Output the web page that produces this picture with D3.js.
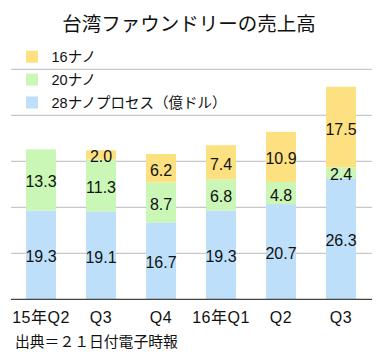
<!DOCTYPE html>
<html><head><meta charset="utf-8">
<script src="https://cdn.jsdelivr.net/npm/d3@7"></script>
<style>
html,body{margin:0;padding:0;background:#fff;}
svg{display:block;font-family:"Liberation Sans","Noto Sans CJK JP",sans-serif;}
</style></head>
<body><svg id="c" width="382" height="357"></svg>
<script>
const title = "台湾ファウンドリーの売上高";
const source = "出典＝２１日付電子時報";
const categories = ["15年Q2","Q3","Q4","16年Q1","Q2","Q3"];
const nm28 = [19.3,19.1,16.7,19.3,20.7,26.3];
const nm20 = [13.3,11.3,8.7,6.8,4.8,2.4];
const nm16 = [null,2.0,6.2,7.4,10.9,17.5];
const seriesNames = ["16ナノ","20ナノ","28ナノプロセス（億ドル）"];
const yTicks = [10,20,30,40,50];
const colors = {nm16:"#fde07f", nm20:"#caf6b6", nm28:"#bddffa"};

const svg = d3.select("#c");
const x = d3.scaleBand().domain(d3.range(categories.length)).range([11,371]).paddingInner(0.5).paddingOuter(0.25);
const y = d3.scaleLinear().domain([0,50]).range([299.3,69.3]);

// gridlines
svg.append("g").selectAll("line").data(yTicks).join("line")
  .attr("x1",11).attr("x2",372).attr("y1",d=>y(d)).attr("y2",d=>y(d))
  .attr("stroke","#bbbbbb").attr("stroke-width",1);

// stacked data
const rows = categories.map((c,i)=>({i, nm28:nm28[i], nm20:nm20[i], nm16:nm16[i]||0, raw16:nm16[i]}));
const keys = ["nm28","nm20","nm16"];
const stack = d3.stack().keys(keys)(rows);

const g = svg.append("g");
stack.forEach(layer=>{
  g.append("g").selectAll("rect").data(layer.filter(d=>d[1]-d[0]>0)).join("rect")
    .attr("x",d=>x(d.data.i)).attr("width",x.bandwidth())
    .attr("y",d=>y(d[1])).attr("height",d=>y(d[0])-y(d[1]))
    .attr("fill",colors[layer.key]);
});
stack.forEach(layer=>{
  g.append("g").selectAll("text").data(layer.filter(d=>d[1]-d[0]>0)).join("text")
    .attr("x",d=>x(d.data.i)+x.bandwidth()/2)
    .attr("y",d=>(y(d[0])+y(d[1]))/2+2)
    .attr("text-anchor","middle").attr("dominant-baseline","central")
    .attr("font-size",16).attr("fill","#111")
    .text(d=>(d[1]-d[0]).toFixed(1));
});

// baseline
svg.append("line").attr("x1",11).attr("x2",372).attr("y1",y(0)).attr("y2",y(0))
  .attr("stroke","#444").attr("stroke-width",1.2);

// x axis labels
svg.append("g").selectAll("text").data(categories).join("text")
  .attr("x",(d,i)=>x(i)+x.bandwidth()/2).attr("y",317.5)
  .attr("text-anchor","middle").attr("dominant-baseline","central")
  .attr("font-size",16).attr("fill","#111").style("letter-spacing","0.5px")
  .text(d=>d);

// title
svg.append("text").attr("x",189).attr("y",24).attr("text-anchor","middle")
  .attr("dominant-baseline","central").attr("font-size",19.5).attr("fill","#111").text(title);

// legend
const legKeys = ["nm16","nm20","nm28"];
const leg = svg.append("g");
legKeys.forEach((k,i)=>{
  const cy = 56.7 + i*22.9;
  leg.append("rect").attr("x",26).attr("y",cy-6).attr("width",12).attr("height",12).attr("fill",colors[k]);
  leg.append("text").attr("x",51.5).attr("y",cy).attr("dominant-baseline","central")
    .attr("font-size",14.5).attr("fill","#111").text(seriesNames[i]);
});

// source
svg.append("text").attr("x",15).attr("y",341.5).attr("dominant-baseline","central")
  .attr("font-size",14.8).attr("fill","#111").text(source);
</script></body></html>
